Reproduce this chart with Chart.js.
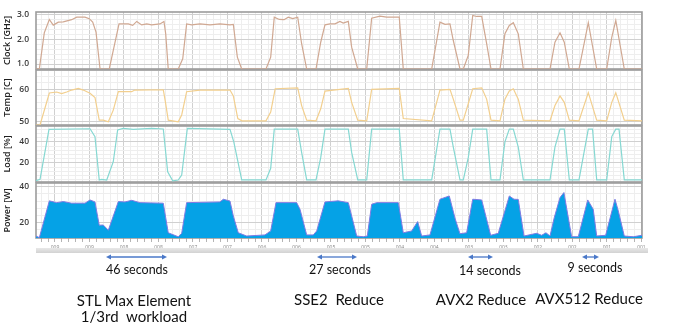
<!DOCTYPE html>
<html>
<head>
<meta charset="utf-8">
<script src="https://cdn.jsdelivr.net/npm/chart.js@4"></script>
<style>
  body { margin: 0; background: #fff; width: 689px; height: 329px; position: relative; overflow: hidden; font-family: Lato, sans-serif; }
  canvas { position: absolute; left: 0; }
  .note { position: absolute; transform: translate(-50%, -50%); white-space: pre; color: #111; line-height: 1; }
  .bar { position: absolute; left: 36px; width: 612px; top: 248px; height: 5px; background: linear-gradient(#e8e8e8, #d2d2d2); }
</style>
</head>
<body>
<canvas id="clock" width="689" height="59" style="top:11px"></canvas>
<canvas id="temp" width="689" height="57" style="top:69px"></canvas>
<canvas id="load" width="689" height="58" style="top:125px"></canvas>
<canvas id="power" width="689" height="76" style="top:178px"></canvas>
<div class="bar"></div>
<svg id="arrows" width="689" height="329" style="position:absolute;left:0;top:0"></svg>

<div class="note" style="left:137px;top:270px;font-size:12.5px">46 seconds</div>
<div class="note" style="left:340px;top:270px;font-size:12.5px">27 seconds</div>
<div class="note" style="left:490px;top:271px;font-size:12.5px">14 seconds</div>
<div class="note" style="left:595px;top:268px;font-size:12.5px">9 seconds</div>
<div class="note" style="left:134px;top:300px;font-size:15px">STL Max Element</div>
<div class="note" style="left:134px;top:316px;font-size:15px">1/3rd  workload</div>
<div class="note" style="left:339px;top:299px;font-size:15px">SSE2  Reduce</div>
<div class="note" style="left:481px;top:299px;font-size:15px">AVX2 Reduce</div>
<div class="note" style="left:589px;top:298px;font-size:15px">AVX512 Reduce</div>

<script>
// time axis (seconds), one label every 30 s
const tickLabels = ['009','009','008','008','007','007','006','006','005','005','004','004','003','003','002','002','001','001'];
const firstTick = 16.5, tickStep = 30, minorStep = 6, tMax = 527;

// clock [GHz]
const clockTime = [0, 2.9, 7.2, 11.6, 15.0, 19.4, 23.7, 31.0, 35.4, 42.6, 46.3, 49.3, 52.2, 55.7, 63.7, 67.2, 72.2, 80.3, 84.1, 87.6, 91.9, 96.3, 100.6, 107.8, 111.3, 112.8, 115.0, 123.7, 127.6, 131.0, 135.4, 142.6, 151.3, 160.0, 168.7, 171.6, 175.1, 178.9, 200.0, 204.1, 207.2, 211.6, 215.7, 219.4, 223.2, 227.6, 231.0, 235.4, 243.5, 247.6, 251.3, 255.7, 260.0, 264.3, 267.2, 271.6, 274.5, 279.8, 287.6, 291.9, 299.1, 305.0, 315.9, 319.4, 344.1, 351.3, 355.7, 360.0, 362.9, 368.7, 371.6, 375.9, 379.8, 383.2, 387.6, 391.9, 395.7, 403.5, 407.8, 411.6, 415.1, 419.4, 423.8, 447.0, 451.3, 455.7, 459.4, 463.8, 472.2, 480.3, 487.6, 496.3, 500.7, 504.2, 511.6, 527];
const clockGHz = [0.8, 0.8, 2.26, 2.8, 2.57, 2.69, 2.7, 2.79, 2.89, 2.89, 2.83, 2.69, 2.29, 0.8, 0.8, 1.55, 2.62, 2.62, 2.56, 2.72, 2.58, 2.62, 2.58, 2.62, 2.72, 2.22, 0.8, 0.8, 1.21, 2.62, 2.58, 2.62, 2.58, 2.62, 2.58, 2.6, 1.28, 0.8, 0.8, 1.28, 2.89, 2.8, 2.79, 2.89, 2.83, 2.89, 1.82, 0.8, 0.8, 1.88, 2.58, 2.62, 2.62, 2.72, 2.65, 2.72, 1.68, 0.8, 0.8, 2.85, 2.93, 2.89, 2.89, 0.8, 0.8, 2.69, 2.6, 2.62, 1.95, 0.8, 0.8, 1.35, 2.96, 2.92, 2.92, 1.82, 0.8, 0.8, 2.22, 2.56, 2.67, 2.22, 0.8, 0.8, 1.88, 2.26, 1.88, 0.8, 0.8, 2.67, 0.8, 0.8, 2.08, 2.76, 0.8, 0.8];

// temperature [C]
const tempTime = [0, 3.5, 11.6, 18.0, 22.3, 26.7, 31.0, 36.8, 41.1, 47.0, 51.3, 55.0, 58.5, 62.9, 67.2, 71.6, 83.2, 85.9, 110.7, 112.6, 115.0, 123.7, 126.7, 131.0, 142.6, 168.7, 171.6, 175.5, 179.1, 200.0, 204.1, 208.0, 227.6, 231.0, 235.4, 243.5, 247.6, 251.3, 271.6, 274.5, 279.8, 287.6, 291.9, 315.9, 319.4, 344.1, 351.3, 360.0, 362.9, 368.7, 371.6, 379.8, 387.6, 391.9, 395.7, 403.5, 407.8, 411.6, 415.1, 419.4, 423.8, 447.0, 451.3, 455.7, 459.4, 463.8, 472.2, 480.3, 487.6, 496.3, 500.7, 504.2, 511.6, 527];
const tempC = [49, 49, 58.9, 59.2, 58.7, 59.2, 59.8, 60.3, 59.8, 58.8, 57.5, 50.5, 50.5, 50.0, 53.6, 59.3, 59.3, 59.8, 59.9, 56.0, 50.5, 50.0, 52.1, 59.3, 59.8, 59.8, 58, 51, 50.3, 50.3, 53, 60.2, 60.5, 55, 50.5, 50.3, 54, 59.5, 60.3, 56, 50.5, 50.3, 60.0, 60.3, 51, 50.3, 59.8, 60.0, 57, 50.5, 50.5, 60.2, 60.5, 57, 50.5, 50.3, 57, 59.5, 60.2, 57, 50.5, 50.3, 55, 58, 56, 50.5, 50.3, 59, 50.5, 50.3, 56, 59, 50.5, 50.3];

// load [%]
const loadTime = [0, 3.5, 11.3, 47.0, 51.3, 55.0, 57.1, 61.5, 67.2, 71.0, 75.9, 84.6, 100.6, 110.7, 114.5, 118.9, 123.7, 126.7, 131.6, 168.7, 172.0, 178.9, 200.0, 204.1, 207.2, 227.6, 231.0, 235.4, 243.5, 247.6, 251.3, 271.6, 274.5, 279.8, 287.6, 291.9, 315.9, 319.4, 344.1, 351.3, 360.0, 362.9, 368.7, 371.6, 375.9, 379.8, 391.9, 395.7, 403.5, 407.8, 411.6, 415.1, 419.4, 423.8, 447.0, 451.3, 455.7, 459.4, 463.8, 472.2, 480.3, 484.0, 487.6, 496.3, 500.7, 504.2, 507.0, 511.6, 527];
const loadPct = [3.2, 4.5, 51.9, 52.4, 44.9, 3.9, 4.5, 3.9, 21.2, 51.2, 52.8, 51.9, 52.8, 52.2, 11.7, 3.2, 3.9, 8.6, 52.8, 51.9, 40, 4, 4, 15, 52, 52, 30, 4, 4, 25, 52, 52, 30, 4, 4, 52, 52, 4, 4, 52, 52, 35, 4, 4, 25, 52, 52, 4, 4, 40, 52, 52, 35, 4, 4, 35, 52, 52, 4, 4, 52, 52, 4, 4, 45, 52, 52, 4, 4];

// power [W]
const powerTime = [0, 2.9, 11.6, 18.0, 23.7, 31.0, 42.6, 47.0, 51.3, 55.0, 58.5, 62.9, 71.6, 77.4, 83.2, 90.4, 110.7, 115.0, 123.7, 126.7, 131.0, 160.0, 162.9, 168.7, 171.6, 175.9, 183.2, 199.1, 204.1, 208.7, 226.7, 229.6, 235.4, 241.1, 244.1, 251.3, 262.9, 271.6, 278.9, 284.6, 288.1, 291.9, 296.3, 315.1, 319.4, 326.7, 331.9, 335.4, 342.6, 351.3, 359.4, 364.6, 368.7, 374.5, 379.8, 387.6, 395.4, 402.0, 411.6, 415.7, 419.4, 424.4, 435.4, 439.7, 443.5, 447.0, 450.7, 455.7, 459.1, 465.8, 471.6, 479.8, 484.6, 487.6, 495.4, 503.5, 506.4, 511.6, 519.4, 527];
const powerW = [12.6, 11.7, 32.1, 31.1, 31.7, 30.8, 30.8, 32.6, 31.5, 18.6, 18.7, 15.8, 31.7, 31.5, 32.4, 31.1, 30.8, 14.4, 12.2, 14.1, 31.1, 31.5, 33.0, 32.0, 23.7, 14.4, 12.6, 13.2, 15.4, 31.1, 31.1, 27.4, 13.2, 13.2, 15.4, 31.5, 32.1, 31.1, 12.6, 12.2, 12.6, 30.2, 31.1, 31.1, 14.4, 15.4, 20.6, 12.6, 13.2, 33.0, 34.8, 22.0, 13.9, 14.4, 33.0, 32.6, 13.0, 14.1, 34.8, 33.0, 32.9, 12.6, 14.1, 13.0, 14.4, 12.6, 22.8, 33.9, 36.7, 12.2, 12.2, 32.6, 27.4, 12.6, 13.0, 33.0, 26.5, 12.6, 12.2, 13.0];

// duration arrows under the chart (page pixels)
const arrows = [[106, 167], [317, 357], [468, 493], [582, 599]];

const MAJOR = '#d0d0d0', MINOR = '#eeeeee';

const frame = {
  id: 'frame',
  beforeDatasetsDraw(chart) {
    const { ctx, chartArea: a } = chart;
    ctx.save();
    ctx.strokeStyle = '#9c9c9c';
    ctx.lineWidth = 1.6;
    ctx.strokeRect(a.left, a.top, a.right - a.left, a.bottom - a.top);
    ctx.restore();
  }
};

function isMajorX(v) {
  const k = (v - firstTick) / tickStep;
  return Math.abs(k - Math.round(k)) < 1e-6;
}

function panel(id, title, times, values, color, y, opts) {
  opts = opts || {};
  const showX = !!opts.showX;
  new Chart(document.getElementById(id), {
    type: 'line',
    data: {
      datasets: [{
        data: times.map((t, i) => ({ x: t, y: values[i] })),
        borderColor: color,
        backgroundColor: opts.fill || 'transparent',
        fill: opts.fill ? 'start' : false,
        borderWidth: opts.width || 1.2,
        pointRadius: 0,
        tension: 0
      }]
    },
    options: {
      responsive: false,
      animation: false,
      events: [],
      layout: { padding: { top: opts.padTop || 1, bottom: 1, left: 0, right: 47 } },
      plugins: { legend: { display: false }, tooltip: { enabled: false } },
      scales: {
        x: {
          type: 'linear', min: 0, max: tMax,
          afterBuildTicks: s => {
            const t = [];
            for (let v = firstTick - 2 * minorStep; v <= tMax; v += minorStep) t.push({ value: v });
            s.ticks = t;
          },
          afterFit: s => { s.height = showX ? 15 : 0; s.paddingLeft = 0; s.paddingRight = 0; },
          border: { display: false },
          grid: {
            color: c => isMajorX(c.tick.value) ? MAJOR : MINOR,
            drawTicks: showX, tickLength: 4, tickColor: '#b4b4b4'
          },
          ticks: {
            display: showX, autoSkip: false, maxRotation: 0, padding: 3,
            font: { family: 'Open Sans', size: 5 }, color: '#8a8a8a',
            callback: v => isMajorX(v) ? tickLabels[Math.round((v - firstTick) / tickStep)] : ''
          }
        },
        y: {
          min: y.min, max: y.max,
          afterBuildTicks: s => {
            const t = [];
            for (let k = Math.ceil(y.min / y.step - 1e-9); k * y.step <= y.max + 1e-9; k++) t.push({ value: +(k * y.step).toFixed(2) });
            s.ticks = t;
          },
          afterFit: s => { s.width = 36; s.paddingTop = 0; s.paddingBottom = 0; },
          border: { display: false },
          grid: { color: c => y.majors.includes(c.tick.value) ? MAJOR : MINOR, drawTicks: false },
          ticks: {
            autoSkip: false, padding: 7,
            font: { family: 'Open Sans', size: 8.5, weight: '600' }, color: '#3a3a3a',
            callback: v => y.majors.includes(v) ? v.toFixed(y.dec) : ''
          },
          title: {
            display: true, text: title, color: '#1e1e1e',
            font: { family: 'Open Sans', size: 9, weight: '600' },
            padding: { top: 2, bottom: 0 }
          }
        }
      }
    },
    plugins: [frame]
  });
}

panel('clock', 'Clock [GHz]', clockTime, clockGHz, '#d0a892', { min: 0.8, max: 3.1, step: 0.2, majors: [1, 2, 3], dec: 1 });
panel('temp', 'Temp [C]', tempTime, tempC, '#f2cf8e', { min: 49, max: 66, step: 2, majors: [50, 60], dec: 0 });
panel('load', 'Load [%]', loadTime, loadPct, '#86d8d2', { min: 2, max: 55, step: 4, majors: [20, 40], dec: 0 });
panel('power', 'Power [W]', powerTime, powerW, '#7f7ae3', { min: 11.5, max: 42, step: 4, majors: [20, 40], dec: 0 },
  { fill: '#05a2e6', showX: true, width: 1, padTop: 5 });

// double-headed arrows
const svg = document.getElementById('arrows');
const NS = 'http://www.w3.org/2000/svg';
arrows.forEach(([a, b]) => {
  const yy = 257;
  const line = document.createElementNS(NS, 'line');
  line.setAttribute('x1', a + 4); line.setAttribute('x2', b - 4);
  line.setAttribute('y1', yy); line.setAttribute('y2', yy);
  line.setAttribute('stroke', '#4a78c8'); line.setAttribute('stroke-width', '1.3');
  svg.appendChild(line);
  [[a, 1], [b, -1]].forEach(([x, d]) => {
    const p = document.createElementNS(NS, 'polygon');
    p.setAttribute('points', `${x},${yy} ${x + 5 * d},${yy - 2.6} ${x + 5 * d},${yy + 2.6}`);
    p.setAttribute('fill', '#4a78c8');
    svg.appendChild(p);
  });
});
</script>
</body>
</html>
